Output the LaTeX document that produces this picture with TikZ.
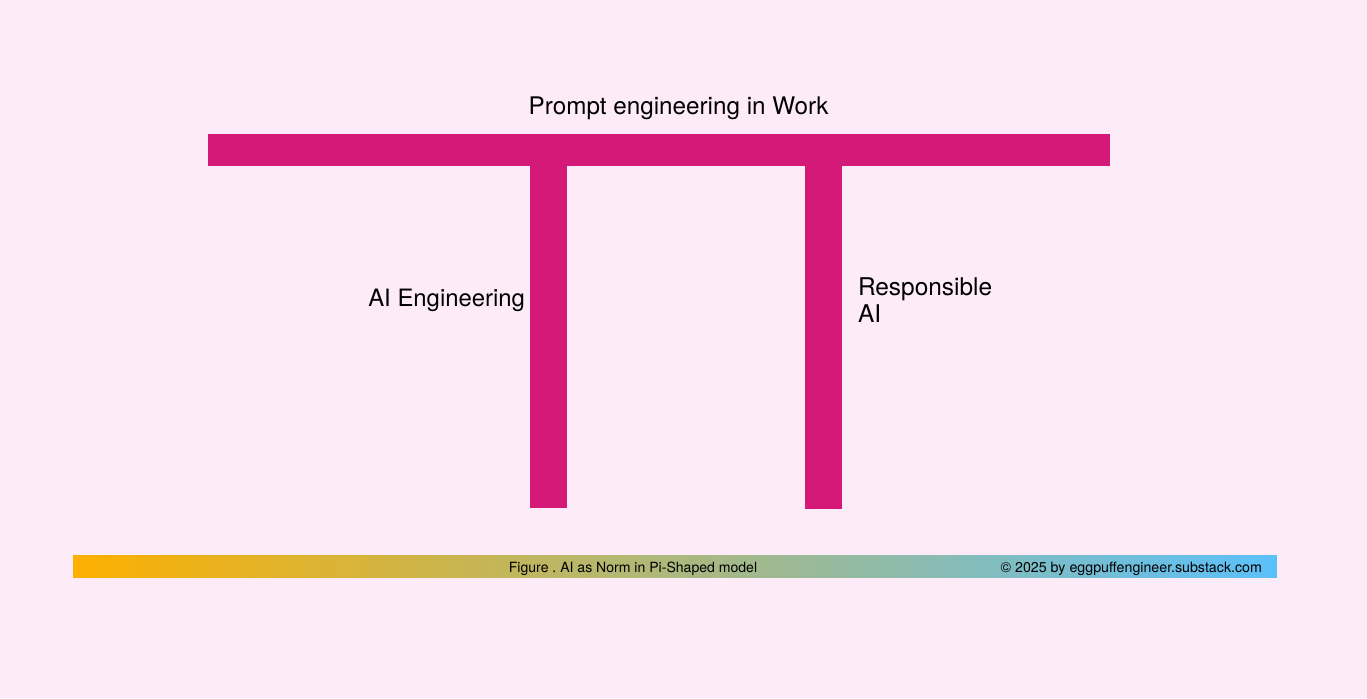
\documentclass[tikz,border=0pt]{standalone}
\usepackage{fontspec}
\setmainfont{TeX Gyre Heros}
\usetikzlibrary{positioning}

\begin{document}
\frenchspacing
\begin{tikzpicture}[x=0.02cm, y=-0.02cm, every node/.style={inner sep=0pt, outer sep=0pt}]
        \definecolor{pibg}{RGB}{253,236,248}
        \definecolor{pimagenta}{RGB}{213,25,121}
        \definecolor{piorange}{RGB}{253,176,0}
        \definecolor{piblue}{RGB}{91,192,250}

        % Background
        \fill[pibg] (0,0) rectangle (1367,698);
        \useasboundingbox (0,0) rectangle (1367,698);

        % Top bar of the Pi
        \node[fill=pimagenta, minimum width=18.04cm, minimum height=0.64cm] (topbar) at (659,150) {};

        % Legs of the Pi
        \node[fill=pimagenta, minimum width=0.74cm, minimum height=6.84cm, anchor=north] (leftleg) at (548.5,166) {};
        \node[fill=pimagenta, minimum width=0.74cm, minimum height=6.86cm, anchor=north] (rightleg) at (823.5,166) {};

        % Labels
        \node[font=\fontsize{13.8}{15.4}\selectfont] (title) at (678.5,108) {Prompt engineering in Work};
        \node[font=\fontsize{13.6}{15.4}\selectfont, anchor=east] (ailabel) at (525,300.5) {AI Engineering};
        \node[font=\fontsize{13.9}{15.4}\selectfont, anchor=west, align=left] (resplabel) at (858,300) {Responsible\\AI};

        % Footer bar
        \node[left color=piorange, right color=piblue, minimum width=24.08cm, minimum height=0.44cm] (footer) at (675,566) {};
        \node[font=\fontsize{8}{9}\selectfont] (caption) at (633,568.5) {Figure . AI as Norm in Pi-Shaped model};
        \node[font=\fontsize{8.1}{9}\selectfont, anchor=east] (copyright) at (1262,568.5) {© 2025 by eggpuffengineer.substack.com};
    \end{tikzpicture}
\end{document}
